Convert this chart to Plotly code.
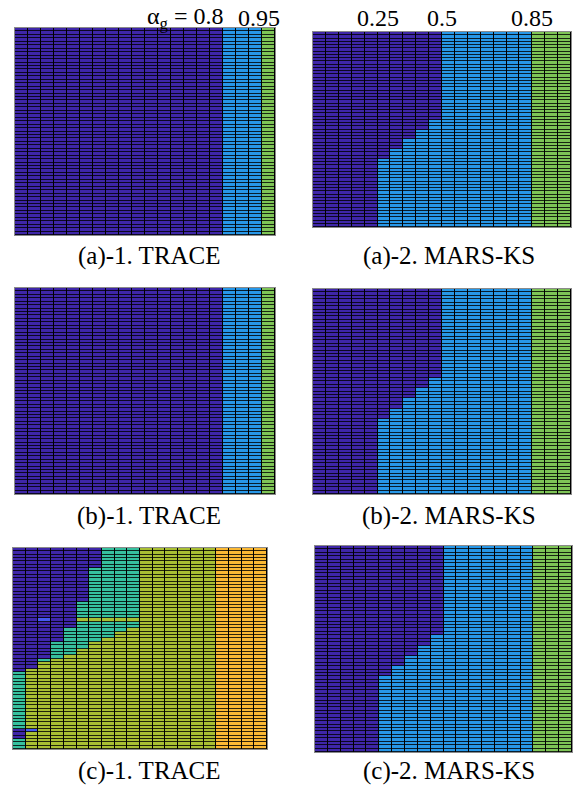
import plotly.graph_objects as go

W, H = 573, 785

# ---------------- data ----------------
# column centres: alpha_g in steps of 0.05 (20 columns), 60 rows per panel
ALPHA = [0.025, 0.075, 0.125, 0.175, 0.225, 0.275, 0.325, 0.375, 0.425, 0.475,
         0.525, 0.575, 0.625, 0.675, 0.725, 0.775, 0.825, 0.875, 0.925, 0.975]
N_ROWS = 60
ROWS = list(range(N_ROWS))

# class codes -> colours (parula-like)
CLASS_COLORS = ["#3e26a8",  # P purple
                "#4659f0",  # V blue-violet
                "#2797e8",  # B blue
                "#36c09e",  # T teal
                "#7ec456",  # G green
                "#a9bf33",  # O olive
                "#fcb934"]  # Y orange
LETTER = {"P": 0, "V": 1, "B": 2, "T": 3, "G": 4, "O": 5, "Y": 6}

# TRACE (a), (b): same class in every row
TRACE_AB_ROW = "PPPPPPPPPPPPPPPPBBBG"

# MARS-KS: top row classes and number of purple rows at the staircase columns 5..9
MARS_TOP_ROW = "PPPPPPPPPPBBBBBBBGGG"
MARS_STAIR_COLS = [5, 6, 7, 8, 9]
MARS_A_PURPLE_DEPTH = [39, 36, 33, 30, 27]
MARS_B_PURPLE_DEPTH = [38, 35, 32, 29, 26]
MARS_C_PURPLE_DEPTH = [38, 35, 32, 29, 26]

# TRACE (c): row-by-row classes (row 0 at top)
TRACE_C_ROWS = (
    ["PPPPPPPTTTOOOOOOYYYY"] * 6 +
    ["PPPPPPTTTTOOOOOOYYYY"] * 10 +
    ["PPPPPTTTTTOOOOOOYYYY"] * 5 +
    ["PPVPPOOOOOOOOOOOYYYY"] +
    ["PPPPPTTTTTOOOOOOYYYY"] * 2 +
    ["PPPPTTTTTOOOOOOOYYYY"] +
    ["PPPPTTTTOOOOOOOOYYYY"] * 2 +
    ["PPPPTTTOOOOOOOOOYYYY"] +
    ["PPPTTTOOOOOOOOOOYYYY"] * 2 +
    ["PPPTTOOOOOOOOOOOYYYY"] * 2 +
    ["PPPTOOOOOOOOOOOOYYYY"] +
    ["PPTOOOOOOOOOOOOOYYYY"] +
    ["PPOOOOOOOOOOOOOOYYYY"] * 2 +
    ["POOOOOOOOOOOOOOOYYYY"] +
    ["TOOOOOOOOOOOOOOOYYYY"] * 17 +
    ["PVOOOOOOOOOOOOOOYYYY"] +
    ["POOOOOOOOOOOOOOOYYYY"] * 2 +
    ["TOOOOOOOOOOOOOOOYYYY"] * 3
)

PANEL_TITLES = ["(a)-1. TRACE", "(a)-2. MARS-KS",
                "(b)-1. TRACE", "(b)-2. MARS-KS",
                "(c)-1. TRACE", "(c)-2. MARS-KS"]

TOP_LABELS_LEFT = [("α<sub>g</sub> = 0.8", 0.80), ("0.95", 0.95)]
TOP_LABELS_RIGHT = [("0.25", 0.25), ("0.5", 0.50), ("0.85", 0.85)]


# ---------------- build grids ----------------
def codes(s):
    return [LETTER[c] for c in s]


def uniform_grid(row):
    return [codes(row) for _ in ROWS]


def mars_grid(depths):
    g = []
    top = codes(MARS_TOP_ROW)
    for r in ROWS:
        row = list(top)
        for c, d in zip(MARS_STAIR_COLS, depths):
            if r >= d:
                row[c] = LETTER["B"]
        g.append(row)
    return g


GRIDS = [uniform_grid(TRACE_AB_ROW), mars_grid(MARS_A_PURPLE_DEPTH),
         uniform_grid(TRACE_AB_ROW), mars_grid(MARS_B_PURPLE_DEPTH),
         [codes(s) for s in TRACE_C_ROWS], mars_grid(MARS_C_PURPLE_DEPTH)]

# ---------------- layout (pixel boxes: left, right, top, bottom) ----------------
BOXES = [(15, 275, 28, 235), (313, 571, 32, 227),
         (15, 275, 288, 494), (313, 571, 289, 494),
         (13, 267, 548, 749), (315, 572, 546, 752)]
TITLE_POS = [(149, 256), (449, 256), (149, 516), (449, 516), (149, 771), (449, 771)]

n = len(CLASS_COLORS)
cscale = []
for i, col in enumerate(CLASS_COLORS):
    cscale.append([i / n, col])
    cscale.append([(i + 1) / n, col])

fig = go.Figure()
layout = dict(width=W, height=H, margin=dict(l=0, r=0, t=0, b=0),
              paper_bgcolor="white", plot_bgcolor="#000000", showlegend=False)

annotations = []
for k, (grid, box) in enumerate(zip(GRIDS, BOXES)):
    i = k + 1
    xa = "x" if i == 1 else f"x{i}"
    ya = "y" if i == 1 else f"y{i}"
    fig.add_trace(go.Heatmap(
        x=ALPHA, y=ROWS, z=grid, xaxis=xa, yaxis=ya,
        colorscale=cscale, zmin=-0.5, zmax=n - 0.5, showscale=False,
        xgap=1, ygap=0.8, hoverinfo="skip"))
    l, r, t, b = box
    axstyle = dict(showticklabels=False, ticks="", showgrid=False, zeroline=False,
                   showline=True, mirror=True, linecolor="#8a8a8a", linewidth=1)
    layout["xaxis" if i == 1 else f"xaxis{i}"] = dict(
        domain=[l / W, r / W], range=[0, 1], anchor=ya, **axstyle)
    layout["yaxis" if i == 1 else f"yaxis{i}"] = dict(
        domain=[1 - b / H, 1 - t / H], range=[N_ROWS - 0.5, -0.5], anchor=xa, **axstyle)

    tx, ty = TITLE_POS[k]
    annotations.append(dict(text=PANEL_TITLES[k], x=tx / W, y=1 - ty / H,
                            xref="paper", yref="paper", showarrow=False,
                            xanchor="center", yanchor="middle",
                            font=dict(family="Liberation Serif", size=25, color="black")))

font_top = dict(family="Liberation Serif", size=24, color="black")
# left panel top labels
annotations.append(dict(text=TOP_LABELS_LEFT[0][0], x=TOP_LABELS_LEFT[0][1], xref="x",
                        y=1 - 18 / H, yref="paper", showarrow=False,
                        xanchor="right", yanchor="middle", xshift=3, font=font_top))
annotations.append(dict(text=TOP_LABELS_LEFT[1][0], x=TOP_LABELS_LEFT[1][1], xref="x",
                        y=1 - 18 / H, yref="paper", showarrow=False,
                        xanchor="center", yanchor="middle", xshift=-3, font=font_top))
for txt, xv in TOP_LABELS_RIGHT:
    annotations.append(dict(text=txt, x=xv, xref="x2", y=1 - 18 / H, yref="paper",
                            showarrow=False, xanchor="center", yanchor="middle",
                            font=font_top))

layout["annotations"] = annotations
fig.update_layout(**layout)
fig.write_html("out.html",
               config={"displayModeBar": False, "staticPlot": True},
               post_script="document.body.style.margin='0';document.body.style.overflow='hidden';")
